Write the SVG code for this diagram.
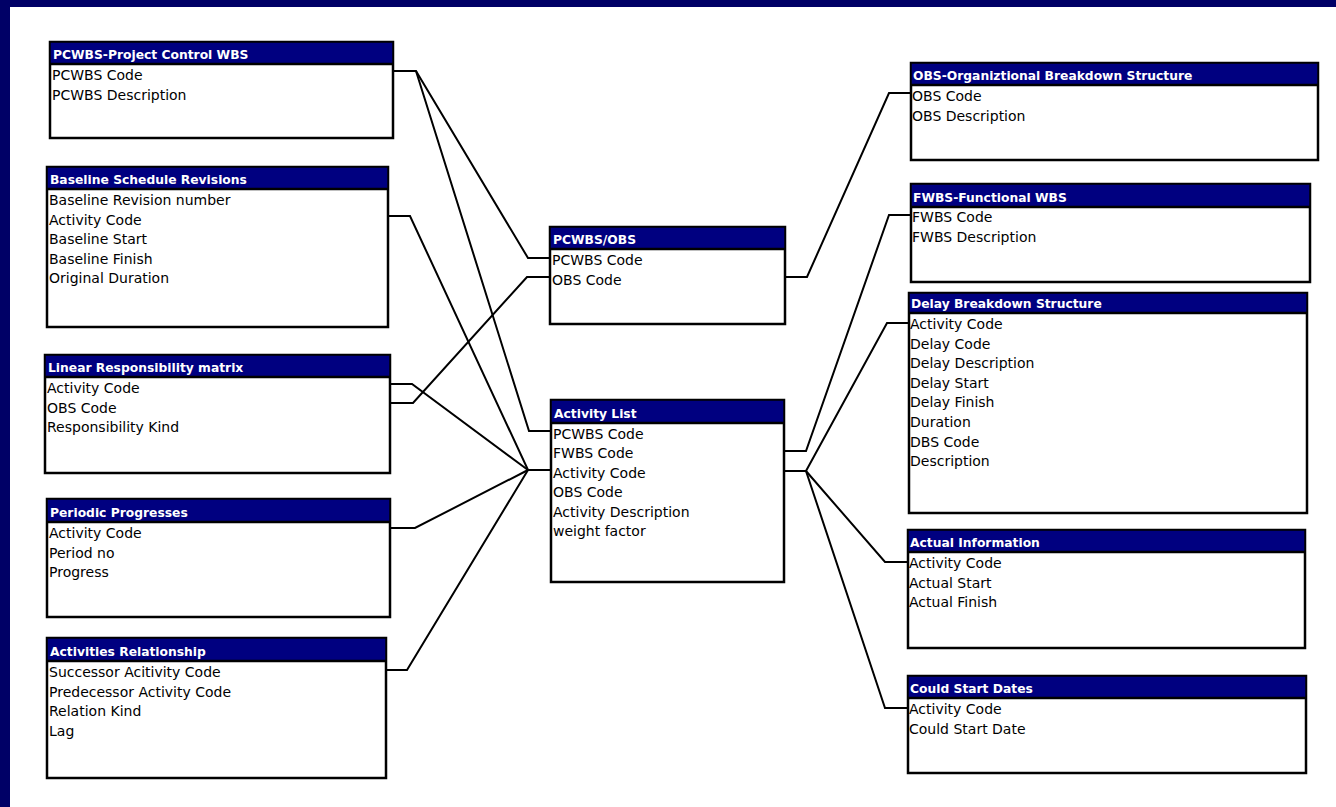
<svg xmlns="http://www.w3.org/2000/svg" width="1336" height="807" viewBox="0 0 1336 807">
<style>
.box{fill:#ffffff;stroke:#000000;stroke-width:2.5}
.hdr{fill:#000080;stroke:#000000;stroke-width:1.5}
.sep{stroke:#000000;stroke-width:2.5}
.t{font-family:"DejaVu Sans","Liberation Sans",sans-serif;font-size:14px;fill:#000000}
.h{font-family:"DejaVu Sans","Liberation Sans",sans-serif;font-size:12.3px;font-weight:bold;fill:#ffffff}
.c{fill:none;stroke:#000000;stroke-width:2;stroke-linejoin:miter}
</style>
<rect x="0" y="0" width="1336" height="807" fill="#ffffff"/>
<rect x="0" y="0" width="1336" height="7" fill="#000066"/>
<rect x="0" y="0" width="10" height="807" fill="#000066"/>

<g id="connectors">
<polyline class="c" points="393,71 416,71 528,258 550,258"/>
<polyline class="c" points="416,71 529,431 551,431"/>
<polyline class="c" points="388,216 410,216 528,470 551,470"/>
<polyline class="c" points="390,384 412,384 528,470"/>
<polyline class="c" points="390,403 413,403 527,277 550,277"/>
<polyline class="c" points="390,528 415,528 528,470"/>
<polyline class="c" points="386,670 407,670 528,470"/>
<polyline class="c" points="785,277 807,277 889,93 911,93"/>
<polyline class="c" points="784,451 806,451 889,215 911,215"/>
<polyline class="c" points="784,471 806,471 887,323 909,323"/>
<polyline class="c" points="806,471 885,562 908,562"/>
<polyline class="c" points="806,471 885,708 908,708"/>
</g>

<g id="pcwbs">
<rect class="box" x="50" y="42" width="343" height="96"/>
<rect class="hdr" x="50" y="42" width="343" height="22"/>
<line class="sep" x1="50" y1="64" x2="393" y2="64"/>
<text class="h" x="53" y="59">PCWBS-Project Control WBS</text>
<text class="t" x="52" y="80">PCWBS Code</text>
<text class="t" x="52" y="99.6">PCWBS Description</text>
</g>

<g id="baseline">
<rect class="box" x="47" y="167" width="341" height="160"/>
<rect class="hdr" x="47" y="167" width="341" height="22"/>
<line class="sep" x1="47" y1="189" x2="388" y2="189"/>
<text class="h" x="50" y="184">Baseline Schedule Revisions</text>
<text class="t" x="49" y="205">Baseline Revision number</text>
<text class="t" x="49" y="224.6">Activity Code</text>
<text class="t" x="49" y="244.2">Baseline Start</text>
<text class="t" x="49" y="263.8">Baseline Finish</text>
<text class="t" x="49" y="283.4">Original Duration</text>
</g>

<g id="lrm">
<rect class="box" x="45" y="355" width="345" height="118"/>
<rect class="hdr" x="45" y="355" width="345" height="22"/>
<line class="sep" x1="45" y1="377" x2="390" y2="377"/>
<text class="h" x="48" y="372">Linear Responsibility matrix</text>
<text class="t" x="47" y="393">Activity Code</text>
<text class="t" x="47" y="412.6">OBS Code</text>
<text class="t" x="47" y="432.2">Responsibility Kind</text>
</g>

<g id="periodic">
<rect class="box" x="47" y="499" width="343" height="118"/>
<rect class="hdr" x="47" y="499" width="343" height="23"/>
<line class="sep" x1="47" y1="522" x2="390" y2="522"/>
<text class="h" x="50" y="517">Periodic Progresses</text>
<text class="t" x="49" y="538">Activity Code</text>
<text class="t" x="49" y="557.6">Period no</text>
<text class="t" x="49" y="577.2">Progress</text>
</g>

<g id="actrel">
<rect class="box" x="47" y="638" width="339" height="140"/>
<rect class="hdr" x="47" y="638" width="339" height="23"/>
<line class="sep" x1="47" y1="661" x2="386" y2="661"/>
<text class="h" x="50" y="656">Activities Relationship</text>
<text class="t" x="49" y="677">Successor Acitivity Code</text>
<text class="t" x="49" y="696.6">Predecessor Activity Code</text>
<text class="t" x="49" y="716.2">Relation Kind</text>
<text class="t" x="49" y="735.8">Lag</text>
</g>

<g id="pcwbsobs">
<rect class="box" x="550" y="227" width="235" height="97"/>
<rect class="hdr" x="550" y="227" width="235" height="22"/>
<line class="sep" x1="550" y1="249" x2="785" y2="249"/>
<text class="h" x="553" y="244">PCWBS/OBS</text>
<text class="t" x="552" y="265">PCWBS Code</text>
<text class="t" x="552" y="284.6">OBS Code</text>
</g>

<g id="activitylist">
<rect class="box" x="551" y="400" width="233" height="182"/>
<rect class="hdr" x="551" y="400" width="233" height="23"/>
<line class="sep" x1="551" y1="423" x2="784" y2="423"/>
<text class="h" x="554" y="418">Activity List</text>
<text class="t" x="553" y="438.5">PCWBS Code</text>
<text class="t" x="553" y="458">FWBS Code</text>
<text class="t" x="553" y="477.5">Activity Code</text>
<text class="t" x="553" y="497">OBS Code</text>
<text class="t" x="553" y="516.5">Activity Description</text>
<text class="t" x="553" y="536">weight factor</text>
</g>

<g id="obs">
<rect class="box" x="911" y="63" width="407" height="97"/>
<rect class="hdr" x="911" y="63" width="407" height="22"/>
<line class="sep" x1="911" y1="85" x2="1318" y2="85"/>
<text class="h" x="913" y="80">OBS-Organiztional Breakdown Structure</text>
<text class="t" x="912" y="101">OBS Code</text>
<text class="t" x="912" y="120.6">OBS Description</text>
</g>

<g id="fwbs">
<rect class="box" x="911" y="184" width="399" height="98"/>
<rect class="hdr" x="911" y="184" width="399" height="23"/>
<line class="sep" x1="911" y1="207" x2="1310" y2="207"/>
<text class="h" x="913" y="202">FWBS-Functional WBS</text>
<text class="t" x="912" y="222">FWBS Code</text>
<text class="t" x="912" y="241.6">FWBS Description</text>
</g>

<g id="delay">
<rect class="box" x="909" y="293" width="398" height="220"/>
<rect class="hdr" x="909" y="293" width="398" height="20"/>
<line class="sep" x1="909" y1="313" x2="1307" y2="313"/>
<text class="h" x="911" y="308">Delay Breakdown Structure</text>
<text class="t" x="910" y="329">Activity Code</text>
<text class="t" x="910" y="348.6">Delay Code</text>
<text class="t" x="910" y="368.2">Delay Description</text>
<text class="t" x="910" y="387.8">Delay Start</text>
<text class="t" x="910" y="407.4">Delay Finish</text>
<text class="t" x="910" y="427">Duration</text>
<text class="t" x="910" y="446.6">DBS Code</text>
<text class="t" x="910" y="466.2">Description</text>
</g>

<g id="actual">
<rect class="box" x="908" y="530" width="397" height="118"/>
<rect class="hdr" x="908" y="530" width="397" height="22"/>
<line class="sep" x1="908" y1="552" x2="1305" y2="552"/>
<text class="h" x="910" y="547">Actual Information</text>
<text class="t" x="909" y="568">Activity Code</text>
<text class="t" x="909" y="587.6">Actual Start</text>
<text class="t" x="909" y="607.2">Actual Finish</text>
</g>

<g id="couldstart">
<rect class="box" x="908" y="676" width="398" height="97"/>
<rect class="hdr" x="908" y="676" width="398" height="22"/>
<line class="sep" x1="908" y1="698" x2="1306" y2="698"/>
<text class="h" x="910" y="693">Could Start Dates</text>
<text class="t" x="909" y="714">Activity Code</text>
<text class="t" x="909" y="733.6">Could Start Date</text>
</g>
</svg>
